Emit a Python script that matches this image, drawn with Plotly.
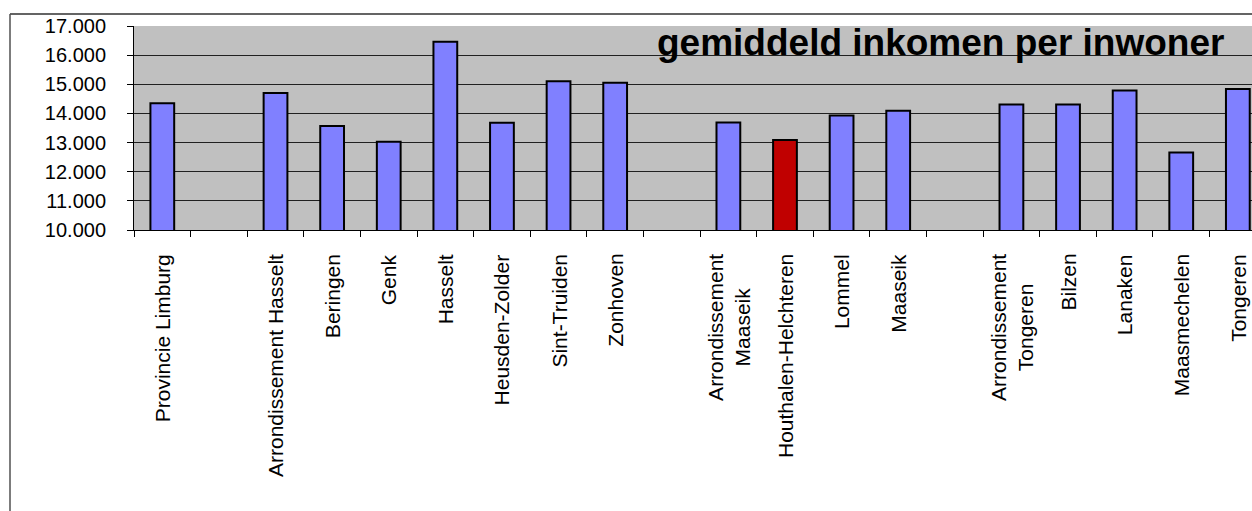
import plotly.graph_objects as go

categories = ["Provincie Limburg", " ", "Arrondissement Hasselt", "Beringen", "Genk", "Hasselt",
              "Heusden-Zolder", "Sint-Truiden", "Zonhoven", "  ", "Arrondissement<br>Maaseik",
              "Houthalen-Helchteren", "Lommel", "Maaseik", "   ", "Arrondissement<br>Tongeren",
              "Bilzen", "Lanaken", "Maasmechelen", "Tongeren"]
values = [14350, None, 14700, 13570, 13030, 16460, 13680, 15100, 15050, None, 13690,
          13090, 13930, 14090, None, 14310, 14310, 14790, 12660, 14840]
highlight = "Houthalen-Helchteren"
title_text = "gemiddeld inkomen per inwoner"
y_ticks = [10000, 11000, 12000, 13000, 14000, 15000, 16000, 17000]

colors = ["#C00000" if c == highlight else "#8080FF" for c in categories]

W, H = 1252, 511
L, T, B = 134, 26, 230
FONT = "Arial, Liberation Sans, sans-serif"

fig = go.Figure(go.Bar(
    x=categories, y=values, marker=dict(color=colors, line=dict(color="black", width=2)),
    width=0.42,
))

fig.update_layout(
    width=W, height=H,
    margin=dict(l=L, r=0, t=T, b=H - B, pad=0),
    paper_bgcolor="white", plot_bgcolor="#C0C0C0",
    separators=",.",
    showlegend=False,
    font=dict(family=FONT, color="black", size=20),
)
fig.update_xaxes(
    type="category", categoryorder="array", categoryarray=categories,
    range=[-0.5, 19.25], showgrid=False, showline=True, linecolor="black", linewidth=1,
    ticks="outside", tickson="boundaries", ticklen=6, tickcolor="black", tickwidth=1,
    showticklabels=False,
)
fig.update_yaxes(
    range=[10000, 17000], tickvals=y_ticks, tickformat=",.0f",
    showgrid=True, gridcolor="#202020", gridwidth=1,
    showline=True, linecolor="black", linewidth=1,
    ticks="outside", ticklen=6, tickcolor="black", tickwidth=1,
    tickfont=dict(size=20, family=FONT),
    ticklabelstandoff=17, zeroline=False,
)

pw = W - L
ph = B - T

# category labels, rotated, centred per line as in the original
for c in categories:
    if c.strip():
        fig.add_annotation(
            text=c, x=c, xref="x", yref="paper", y=-(253 - B) / ph,
            xanchor="center", yanchor="top", textangle=-90, align="center",
            showarrow=False, borderpad=0, font=dict(size=21, family=FONT, color="black"),
        )

fig.add_annotation(
    text="<b>" + title_text + "</b>", xref="paper", yref="paper",
    x=(1226 - L) / pw, y=1 - (20 - T) / ph, xanchor="right", yanchor="top",
    showarrow=False, font=dict(size=37, family=FONT, color="black"),
)
# outer chart border
fig.add_shape(type="line", xref="paper", yref="paper",
              x0=(10 - L) / pw, x1=1.2, y0=1 + (T - 14) / ph, y1=1 + (T - 14) / ph,
              line=dict(color="#303030", width=1.5))
fig.add_shape(type="line", xref="paper", yref="paper",
              x0=(10 - L) / pw, x1=(10 - L) / pw, y0=1 + (T - 14) / ph, y1=-(H - B + 10) / ph,
              line=dict(color="#505050", width=1.5))

fig.write_html("out.html", config={"displayModeBar": False},
               post_script="document.body.style.margin='0';document.body.style.overflow='hidden';")
